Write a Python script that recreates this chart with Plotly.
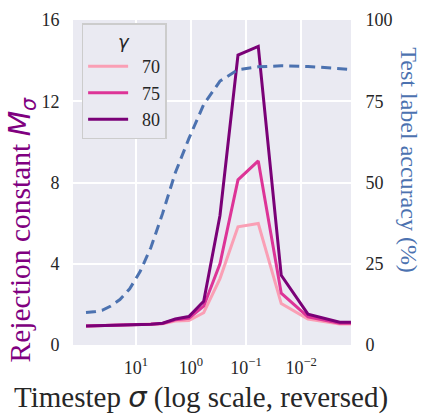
import plotly.graph_objects as go

# Noise levels (EDM schedule, reversed log axis); last entry = right edge continuation
sigma = [80, 57.6, 40.8, 28.4, 19.4, 12.9, 8.40, 5.32, 3.26, 1.92, 1.09, 0.586,
         0.297, 0.140, 0.0600, 0.0230, 0.00753, 0.0020, 0.00125]

gammas = ["70", "75", "80"]
m70 = [0.93, 0.94, 0.95, 0.96, 0.97, 0.98, 0.99, 1.01, 1.05, 1.18, 1.20, 1.59,
       3.27, 5.82, 5.98, 2.04, 1.28, 1.04, 1.04]
m75 = [0.93, 0.94, 0.95, 0.96, 0.97, 0.98, 0.99, 1.02, 1.06, 1.24, 1.31, 1.91,
       4.00, 8.13, 9.06, 2.55, 1.39, 1.07, 1.07]
m80 = [0.93, 0.94, 0.95, 0.96, 0.97, 0.98, 0.99, 1.02, 1.07, 1.28, 1.40, 2.15,
       6.38, 14.27, 14.70, 3.43, 1.52, 1.12, 1.12]
accuracy = [10.0, 10.2, 10.7, 12.0, 14.0, 17.3, 22.5, 30.0, 40.5, 53.0, 63.5, 74.0,
            81.2, 84.7, 85.6, 85.9, 85.7, 85.1, 84.8]

m_series = [m70, m75, m80]
colors = ["#FA9FB5", "#DD3497", "#7A0177"]

left_ticks = [0, 4, 8, 12, 16]
right_ticks = [0, 25, 50, 75, 100]
x_tickvals = [10, 1, 0.1, 0.01]
x_ticktext = ["10<sup>1</sup>", "10<sup>0</sup>", "10<sup>−1</sup>", "10<sup>−2</sup>"]

SERIF = "Liberation Serif"
SANS = "DejaVu Sans"
TXT = "#262626"

fig = go.Figure()

fig.add_trace(go.Scatter(
    x=sigma, y=accuracy, yaxis="y2", mode="lines", showlegend=False,
    line=dict(color="#4C72B0", width=3, dash="10px,6px"),
))

for name, vals, col in zip(gammas, m_series, colors):
    fig.add_trace(go.Scatter(
        x=sigma, y=vals, mode="lines", name="\u00a0\u00a0" + name, legendgroup=name,
        line=dict(color=col, width=3),
    ))

fig.update_layout(
    width=421, height=415,
    margin=dict(l=73, r=70, t=10, b=70),
    paper_bgcolor="white", plot_bgcolor="#EAEAF2",
    font=dict(family=SERIF, size=18, color=TXT),
    xaxis=dict(
        type="log", range=[2.139, -2.904],
        tickvals=x_tickvals, ticktext=x_ticktext,
        showgrid=True, gridcolor="white", gridwidth=1.5,
        zeroline=False, showline=False,
        ticks="outside", ticklen=6, tickcolor="rgba(0,0,0,0)",
        tickfont=dict(family=SERIF, size=18, color=TXT),
    ),
    yaxis=dict(
        range=[0, 16], tickvals=left_ticks,
        showgrid=True, gridcolor="white", gridwidth=1.5,
        zeroline=False, showline=False,
        ticks="outside", ticklen=9, tickcolor="rgba(0,0,0,0)",
        tickfont=dict(family=SERIF, size=18, color=TXT),
    ),
    yaxis2=dict(
        range=[0, 100], tickvals=right_ticks, overlaying="y", side="right",
        showgrid=False, zeroline=False, showline=False,
        ticks="outside", ticklen=10, tickcolor="rgba(0,0,0,0)",
        tickfont=dict(family=SERIF, size=18, color=TXT),
    ),
    legend=dict(
        x=0.031, y=0.99, xanchor="left", yanchor="top",
        bgcolor="#EAEAF2", bordercolor="#CCCCCC", borderwidth=1.5,
        font=dict(family=SERIF, size=18, color=TXT),
        title=dict(text="<i>γ</i>", side="top center",
                   font=dict(family=SANS, size=18, color=TXT)),
        traceorder="grouped", tracegroupgap=0, itemwidth=40,
    ),
    annotations=[
        dict(text="Timestep <span style='font-family:DejaVu Sans'><i>σ</i></span> (log scale, reversed)",
             xref="paper", yref="paper", x=0.46, y=-0.16, xanchor="center", yanchor="middle",
             showarrow=False, font=dict(family=SERIF, size=29, color=TXT)),
        dict(text="Rejection constant <span style='font-family:DejaVu Sans'><i>M</i><sub><i>σ</i></sub></span>",
             xref="paper", yref="paper", x=-0.184, y=0.355, xanchor="center", yanchor="middle",
             textangle=-90, showarrow=False, font=dict(family=SERIF, size=29.5, color="#800080")),
        dict(text="Test label accuracy (%)",
             xref="paper", yref="paper", x=1.21, y=0.567, xanchor="center", yanchor="middle",
             textangle=90, showarrow=False, font=dict(family=SERIF, size=24, color="#4C72B0")),
    ],
)

fig.write_html("out.html")
